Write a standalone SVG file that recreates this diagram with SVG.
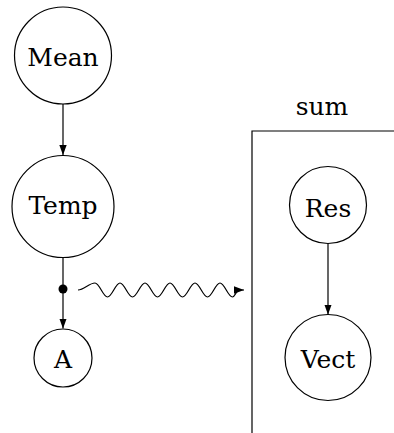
<svg xmlns="http://www.w3.org/2000/svg" width="394" height="433" viewBox="0 0 394 433">
<style>
.n{fill:none;stroke:#000;stroke-width:1.2}
.t{font-family:"DejaVu Serif",serif;font-size:25px;fill:#000;text-anchor:middle}
.e{fill:none;stroke:#000;stroke-width:1.2}
</style>
<defs>
<marker id="ah" markerUnits="userSpaceOnUse" markerWidth="12" markerHeight="10" viewBox="0 0 12 10" refX="10" refY="5" orient="auto">
<path d="M0,1.3 L10,5 L0,8.7 Z" fill="#000"/>
</marker>
</defs>
<g id="connectors">
<line class="e" x1="63" y1="104" x2="63" y2="155" marker-end="url(#ah)"/>
<line class="e" x1="63" y1="257" x2="63" y2="328.5" marker-end="url(#ah)"/>
<circle cx="63" cy="289" r="4.5" fill="#000"/>
<path class="e" d="M78,290 C84,290 89,283 95,283 C99.5,283 103,297 107.5,297 C112,297 115.5,283 120,283 C124.5,283 128,297 132.5,297 C137,297 140.5,283 145,283 C149.5,283 153,297 157.5,297 C162,297 165.5,283 170,283 C174.5,283 178,297 182.5,297 C187,297 190.5,283 195,283 C199.5,283 203,297 207.5,297 C212,297 215.5,283 220,283 C224.5,283 228,297 232.5,297 C235,297 236,290 240,290 L244,290" marker-end="url(#ah)"/>
<line class="e" x1="328" y1="243.5" x2="328" y2="314.5" marker-end="url(#ah)"/>
</g>
<g id="sum">
<polyline class="e" points="252,433 252,131 394,131"/>
<text class="t" x="322" y="115">sum</text>
</g>
<g id="Mean">
<circle class="n" cx="63" cy="55.5" r="48.5"/>
<text class="t" x="63" y="66">Mean</text>
</g>
<g id="Temp">
<circle class="n" cx="63" cy="206.5" r="51"/>
<text class="t" x="63" y="214">Temp</text>
</g>
<g id="A">
<circle class="n" cx="63" cy="358" r="29"/>
<text class="t" x="63" y="368">A</text>
</g>
<g id="Res">
<circle class="n" cx="328" cy="205" r="38.5"/>
<text class="t" x="328" y="216.5">Res</text>
</g>
<g id="Vect">
<circle class="n" cx="328" cy="357.5" r="43"/>
<text class="t" x="328" y="368">Vect</text>
</g>
</svg>
